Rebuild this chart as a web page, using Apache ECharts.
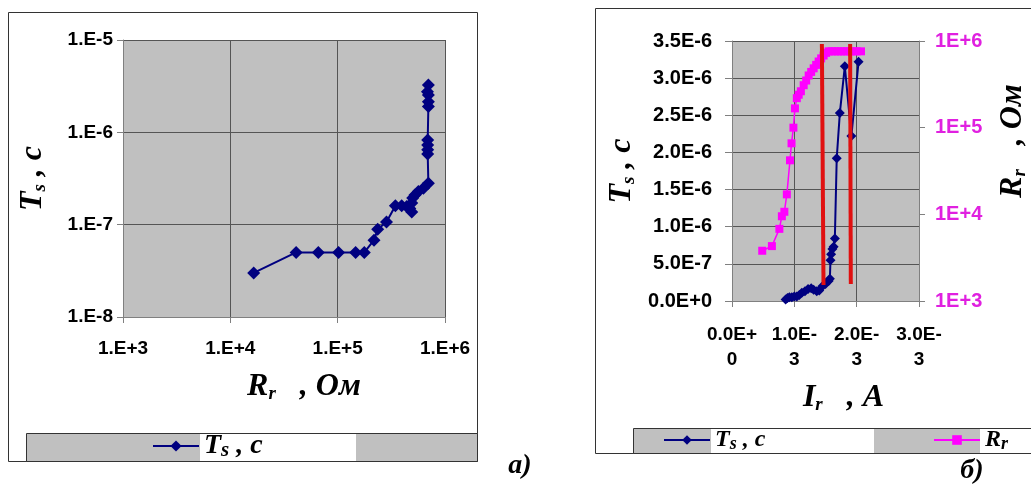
<!DOCTYPE html>
<html>
<head>
<meta charset="utf-8">
<script src="https://cdn.jsdelivr.net/npm/echarts@6/dist/echarts.min.js"></script>
<style>
html, body { margin: 0; padding: 0; background: #fff; }
#chart { width: 1031px; height: 484px; }
</style>
</head>
<body>
<div id="chart"></div>
<script>
// a) Ts vs Rr (log-log)
var aR  = [1.65e4, 4.1e4, 6.6e4, 1.02e5, 1.47e5, 1.77e5, 2.18e5, 2.36e5, 2.85e5, 3.45e5, 3.95e5, 4.4e5, 4.7e5, 4.9e5, 4.9e5, 5.0e5, 5.25e5, 5.65e5, 6.3e5, 7.0e5, 6.9e5, 6.9e5, 6.9e5, 6.9e5, 7.0e5, 7.0e5, 7.0e5, 6.86e5, 7.0e5];
var aTs = [3.0e-8, 5.0e-8, 5.0e-8, 5.0e-8, 5.0e-8, 5.0e-8, 6.8e-8, 8.9e-8, 1.07e-7, 1.6e-7, 1.6e-7, 1.57e-7, 1.5e-7, 1.37e-7, 1.72e-7, 1.94e-7, 2.1e-7, 2.28e-7, 2.48e-7, 2.81e-7, 5.84e-7, 6.46e-7, 7.3e-7, 8.28e-7, 1.9e-6, 2.15e-6, 2.54e-6, 2.75e-6, 3.26e-6];

// б) Ts vs Ir  (Ir in mA, Ts in мкс)
var bI  = [0.86, 0.89, 0.92, 0.96, 1.00, 1.04, 1.08, 1.12, 1.17, 1.22, 1.27, 1.31, 1.36, 1.40, 1.45, 1.50, 1.55, 1.57, 1.58, 1.59, 1.61, 1.63, 1.65, 1.68, 1.73, 1.81, 1.915, 2.03];
var bTs = [0.02, 0.04, 0.05, 0.05, 0.06, 0.06, 0.08, 0.11, 0.13, 0.16, 0.17, 0.15, 0.13, 0.14, 0.20, 0.23, 0.27, 0.30, 0.55, 0.63, 0.70, 0.73, 0.84, 1.92, 2.53, 3.16, 2.22, 3.22];

// б) Rr vs Ir (Ir in mA)
var cI  = [0.485, 0.64, 0.76, 0.80, 0.84, 0.88, 0.93, 0.955, 0.985, 1.01, 1.04, 1.07, 1.105, 1.15, 1.19, 1.23, 1.27, 1.31, 1.35, 1.39, 1.43, 1.47, 1.51, 1.55, 1.60, 1.65, 1.70, 1.75, 1.80, 1.85, 1.90, 1.95, 2.00, 2.07];
var cRr = [3.8e3, 4.3e3, 6.8e3, 9.5e3, 1.07e4, 1.7e4, 4.2e4, 6.6e4, 1.0e5, 1.67e5, 2.19e5, 2.4e5, 2.63e5, 3.09e5, 3.5e5, 4.0e5, 4.4e5, 4.84e5, 5.3e5, 5.8e5, 6.3e5, 6.8e5, 7.3e5, 7.6e5, 7.6e5, 7.6e5, 7.6e5, 7.6e5, 7.6e5, 7.6e5, 7.6e5, 7.6e5, 7.6e5, 7.6e5];

// red marker lines (Ir in mA, Ts in мкс)
var red1I = [1.442, 1.468], red1T = [3.46, 0.215];
var red2I = [1.895, 1.906], red2T = [3.46, 0.229];

function pairs(xs, ys, kx, ky) {
	var out = [];
	for (var i = 0; i < xs.length; i++) out.push([xs[i] * kx, ys[i] * ky]);
	return out;
}

var SANS = 'Liberation Sans';
var SERIF = 'Liberation Serif';
var GRIDC = '#555';
var AXISC = '#808080';

function richName(size, subK) {
	var s = Math.round(size * (subK || 0.6));
	return {
		i: { fontFamily: SERIF, fontStyle: 'italic', fontWeight: 'bold', fontSize: size, color: '#000', lineHeight: size + 2 },
		sub: { fontFamily: SERIF, fontStyle: 'italic', fontWeight: 'bold', fontSize: s, color: '#000', verticalAlign: 'bottom', lineHeight: s }
	};
}

function logLabel(v) {
	var e = Math.round(Math.log10(v));
	return '1.E' + (e < 0 ? '-' : '+') + Math.abs(e);
}

var labelStyle = { fontFamily: SANS, fontWeight: 'bold', fontSize: 19, color: '#000' };

var chart = echarts.init(document.getElementById('chart'));

chart.setOption({
	animation: false,
	backgroundColor: '#fff',
	graphic: [
		// frame a)
		{ type: 'rect', shape: { x: 8.5, y: 12.5, width: 469, height: 449 }, style: { fill: '#fff', stroke: '#333', lineWidth: 1 }, z: -10 },
		{ type: 'rect', shape: { x: 26.5, y: 433.5, width: 451, height: 28 }, style: { fill: '#c0c0c0', stroke: '#333', lineWidth: 1 }, z: -9 },
		{ type: 'rect', shape: { x: 200, y: 434, width: 156, height: 27 }, style: { fill: '#fff' }, z: -8 },
		// frame б)
		{ type: 'rect', shape: { x: 595.5, y: 8.5, width: 500, height: 445 }, style: { fill: '#fff', stroke: '#333', lineWidth: 1 }, z: -10 },
		{ type: 'rect', shape: { x: 633.5, y: 428.5, width: 500, height: 25 }, style: { fill: '#c0c0c0', stroke: '#333', lineWidth: 1 }, z: -9 },
		{ type: 'rect', shape: { x: 711, y: 429, width: 163, height: 24 }, style: { fill: '#fff' }, z: -8 },
		{ type: 'rect', shape: { x: 980, y: 429, width: 60, height: 24 }, style: { fill: '#fff' }, z: -8 },
		{ type: 'text', x: 520, y: 466, style: { text: 'a)', font: 'italic bold 28px "Liberation Serif"', fill: '#000', align: 'center', verticalAlign: 'middle' } },
		{ type: 'text', x: 972, y: 471, style: { text: 'б)', font: 'italic bold 28px "Liberation Serif"', fill: '#000', align: 'center', verticalAlign: 'middle' } }
	],
	legend: [
		{ data: ['Ts_a'], left: 152, top: 432, padding: 0, itemWidth: 46, itemHeight: 14,
		  formatter: function () { return '{i|T}{sub|s}{i| , c}'; },
		  textStyle: { rich: richName(28, 0.75) } },
		{ data: ['Ts_b'], left: 663, top: 428, padding: 0, itemWidth: 46, itemHeight: 12,
		  formatter: function () { return '{i|T}{sub|s}{i| , c}'; },
		  textStyle: { rich: richName(24, 0.75) } },
		{ data: ['Rr'], left: 933, top: 428, padding: 0, itemWidth: 46, itemHeight: 12,
		  formatter: function () { return '{i|R}{sub|r}'; },
		  textStyle: { rich: richName(24, 0.75) } }
	],
	grid: [
		{ left: 123, top: 40, width: 322, height: 277, show: true, backgroundColor: '#c0c0c0', borderWidth: 0 },
		{ left: 732, top: 41, width: 190, height: 260, show: true, backgroundColor: '#c0c0c0', borderWidth: 0 }
	],
	xAxis: [
		{ gridIndex: 0, type: 'log', logBase: 10, min: 1e3, max: 1e6,
		  axisLine: { lineStyle: { color: AXISC } },
		  axisTick: { length: 6, lineStyle: { color: AXISC } },
		  axisLabel: Object.assign({ margin: 22, formatter: logLabel }, labelStyle),
		  splitLine: { show: true, lineStyle: { color: GRIDC } },
		  name: '{i|R}{sub|r}{i|   , Ом}', nameLocation: 'middle', nameGap: 53,
		  nameTextStyle: { rich: richName(32), padding: [0, 0, 0, 40] } },
		{ gridIndex: 1, type: 'value', min: 0, max: 3e-3, interval: 1e-3,
		  axisLine: { lineStyle: { color: AXISC } },
		  axisTick: { length: 6, lineStyle: { color: AXISC } },
		  axisLabel: Object.assign({ margin: 21, lineHeight: 25,
		    formatter: function (v) { return (Math.round(v * 1e4) / 1e4).toExponential(1).toUpperCase().replace(/([+-])/, '$1\n'); } }, labelStyle),
		  splitLine: { show: true, lineStyle: { color: GRIDC } },
		  name: '{i|I}{sub|r}{i|   , A}', nameLocation: 'middle', nameGap: 80,
		  nameTextStyle: { rich: richName(32), padding: [0, 0, 0, 36] } }
	],
	yAxis: [
		{ gridIndex: 0, type: 'log', logBase: 10, min: 1e-8, max: 1e-5,
		  axisLine: { show: true, lineStyle: { color: AXISC } },
		  axisTick: { show: true, length: 6, lineStyle: { color: AXISC } },
		  axisLabel: Object.assign({ margin: 10, formatter: logLabel }, labelStyle),
		  splitLine: { show: true, lineStyle: { color: GRIDC } },
		  name: '{i|T}{sub|s}{i| , c}', nameLocation: 'middle', nameRotate: 90, nameGap: 73,
		  nameTextStyle: { rich: richName(32) } },
		{ gridIndex: 1, type: 'value', min: 0, max: 3.5e-6, interval: 5e-7,
		  axisLine: { show: true, lineStyle: { color: AXISC } },
		  axisTick: { show: true, length: 7, lineStyle: { color: AXISC } },
		  axisLabel: Object.assign({ margin: 20,
		    formatter: function (v) { return (Math.round(v * 1e8) / 1e8).toExponential(1).toUpperCase(); } }, labelStyle, { fontSize: 20 }),
		  splitLine: { show: true, lineStyle: { color: GRIDC } },
		  name: '{i|T}{sub|s}{i| , c}', nameLocation: 'middle', nameRotate: 90, nameGap: 93,
		  nameTextStyle: { rich: richName(32) } },
		{ gridIndex: 1, type: 'log', logBase: 10, min: 1e3, max: 1e6, position: 'right',
		  axisLine: { show: true, lineStyle: { color: AXISC } },
		  axisTick: { show: true, length: 6, lineStyle: { color: AXISC } },
		  axisLabel: { margin: 16, fontFamily: SANS, fontWeight: 'bold', fontSize: 20, color: '#e020e0',
		    formatter: function (v) { return '1E+' + Math.round(Math.log10(v)); } },
		  splitLine: { show: false },
		  name: '{i|R}{sub|r}{i|   , Ом}', nameLocation: 'middle', nameRotate: 90, nameGap: 77,
		  nameTextStyle: { rich: richName(32), padding: [0, 0, 0, 60] } }
	],
	series: [
		{ name: 'Ts_a', type: 'line', xAxisIndex: 0, yAxisIndex: 0, data: pairs(aR, aTs, 1, 1),
		  symbol: 'diamond', symbolSize: 13, itemStyle: { color: '#000080' }, lineStyle: { color: '#000080', width: 2 } },
		{ name: 'Rr', type: 'line', xAxisIndex: 1, yAxisIndex: 2, data: pairs(cI, cRr, 1e-3, 1),
		  symbol: 'rect', symbolSize: 8, itemStyle: { color: '#ff00ff' }, lineStyle: { color: '#ff00ff', width: 1.5 } },
		{ name: 'Ts_b', type: 'line', xAxisIndex: 1, yAxisIndex: 1, data: pairs(bI, bTs, 1e-3, 1e-6),
		  symbol: 'diamond', symbolSize: 10, itemStyle: { color: '#000080' }, lineStyle: { color: '#000080', width: 2 } },
		{ name: 'red1', type: 'line', xAxisIndex: 1, yAxisIndex: 1, data: pairs(red1I, red1T, 1e-3, 1e-6),
		  symbol: 'none', silent: true, lineStyle: { color: '#e01010', width: 4 }, z: 5 },
		{ name: 'red2', type: 'line', xAxisIndex: 1, yAxisIndex: 1, data: pairs(red2I, red2T, 1e-3, 1e-6),
		  symbol: 'none', silent: true, lineStyle: { color: '#e01010', width: 4 }, z: 5 }
	]
});
</script>
</body>
</html>
